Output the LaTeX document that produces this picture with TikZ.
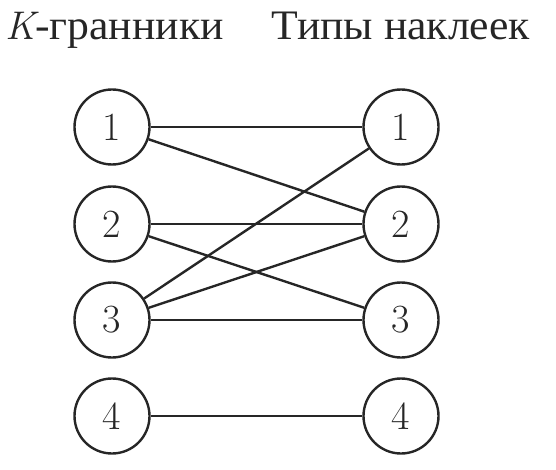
\documentclass[tikz,border=0pt]{standalone}
\usepackage{fontspec}
\newfontfamily\cyr[FakeStretch=1.04]{Liberation Serif}
\begin{document}
\begin{tikzpicture}[x=1pt,y=1pt,
  vert/.style={circle,draw=black!85,line width=2.4pt,minimum size=75pt,inner sep=0pt,font=\fontsize{40}{44}\selectfont,text=black!85},
  edge/.style={draw=black!85,line width=2.4pt},
  title/.style={inner sep=0pt,font=\fontsize{42}{46}\selectfont,text=black!85}]
\useasboundingbox (0,0) rectangle (556,469);
\node[title,anchor=base west] (tl) at (5,429) {{\fontsize{40}{44}\selectfont\itshape K}\cyr -гранники};
\node[title,anchor=base east] (tr) at (530,429) {\cyr Типы наклеек};
\foreach \i/\y in {1/342,2/245,3/149,4/53}{
  \node[vert] (l\i) at (112,\y) {\i};
  \node[vert] (r\i) at (401,\y) {\i};
}
\draw[edge] (l1) -- (r1);
\draw[edge] (l1) -- (r2);
\draw[edge] (l2) -- (r2);
\draw[edge] (l2) -- (r3);
\draw[edge] (l3) -- (r1);
\draw[edge] (l3) -- (r2);
\draw[edge] (l3) -- (r3);
\draw[edge] (l4) -- (r4);
\end{tikzpicture}
\end{document}
